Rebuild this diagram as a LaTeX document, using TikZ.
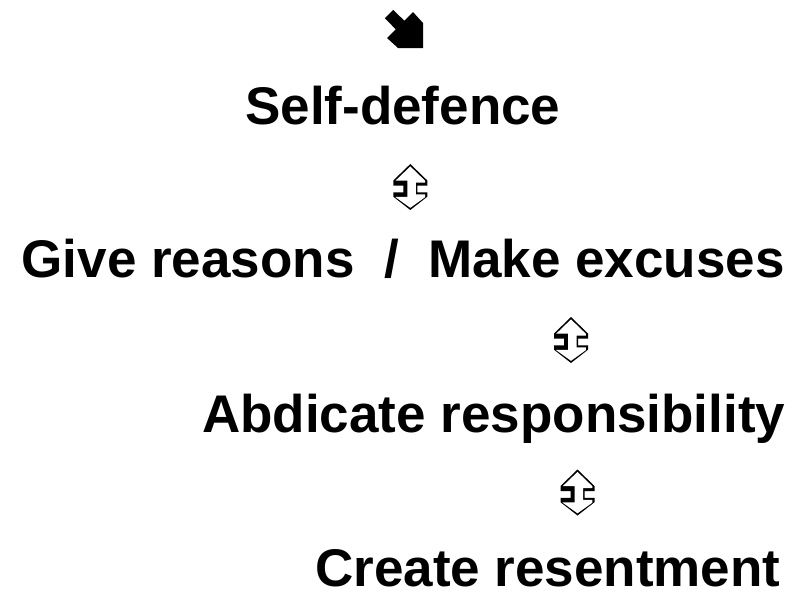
\documentclass[tikz,border=0pt]{standalone}
\usepackage{fontspec}
\setmainfont{Liberation Sans}
\begin{document}
\begin{tikzpicture}[x=1pt,y=-1pt,
  label/.style={anchor=base west,inner sep=0pt,text depth=0pt,font=\fontsize{53}{60}\selectfont\bfseries},
  dblarrow/.pic={
    \fill[black] (0,-23) -- (17,-6.5) -- (17,-1.5) -- (7,-1.5) -- (7,5.3) -- (17,5.3) -- (17,9.7) -- (0,23)
      -- (-17,9.7) -- (-17,5.3) -- (-7,5.3) -- (-7,-1.5) -- (-17,-1.5) -- (-17,-6.5) -- cycle;
    \fill[white] (0,-20.6) -- (14.8,-6.3) -- (14.8,-4.4) -- (5.5,-4.4) -- (5.5,7.4) -- (14.8,7.4) -- (14.8,10.2)
      -- (0,20.8) -- (-14.8,10.2) -- (-14.8,9.9) -- (-3,9.9) -- (-3,-6.3) -- (-14.8,-6.3) -- cycle;
  }]
\useasboundingbox (0,0) rectangle (801,592);
\fill[white] (0,0) rectangle (801,592);
% diagonal arrow
\coordinate (da) at (404,30);
\fill[black] (393.2,9.8) -- (404.3,20.75) -- (413,12) -- (423,23) -- (423,48) -- (398,48) -- (387,38)
  -- (395.75,29.3) -- (384.8,18.2) -- cycle;
% texts
\node[label] (self) at (245,124.5) {Self-defence};
\node[label] (give) at (21.5,277.5) {Give reasons~~/~~Make excuses};
\node[label] (abd) at (202,432) {Abdicate responsibility};
\node[label] (cre) at (315,586.5) {Create resentment};
% double arrows
\pic at (410.3,187) {dblarrow};
\pic at (571,340) {dblarrow};
\pic at (577.5,492.5) {dblarrow};
\end{tikzpicture}
\end{document}
